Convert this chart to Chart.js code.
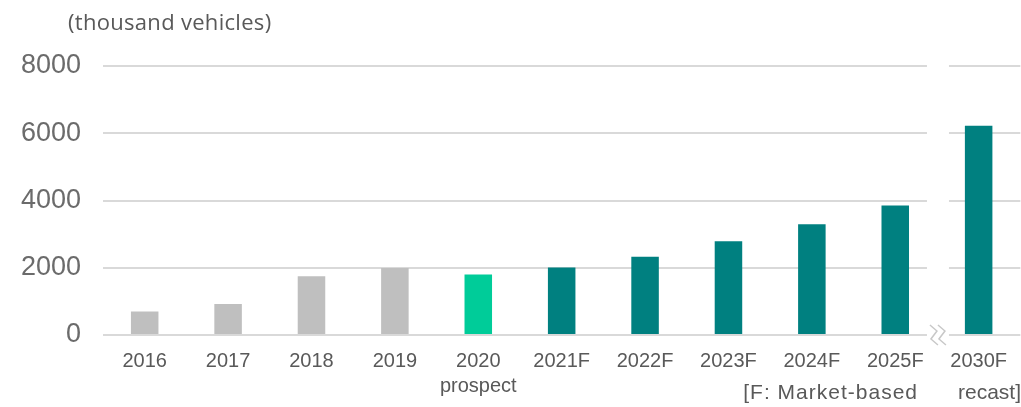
<!DOCTYPE html>
<html>
<head>
<meta charset="utf-8">
<script src="https://cdn.jsdelivr.net/npm/chart.js@4/dist/chart.umd.min.js"></script>
<style>
  html, body { margin: 0; padding: 0; background: #fff; }
  #wrap { width: 1021px; height: 407px; position: relative; }
</style>
</head>
<body>
<div id="wrap"><canvas id="barChart" width="1021" height="407"></canvas></div>
<script>
const years = ['2016', '2017', '2018', '2019', ['2020', 'prospect'], '2021F', '2022F', '2023F', '2024F', '2025F', '2030F'];
const vehicles = [700, 920, 1750, 1990, 1800, 2010, 2330, 2790, 3290, 3850, 6220];
const barColors = ['#BFBFBF', '#BFBFBF', '#BFBFBF', '#BFBFBF', '#00CC99',
    '#008080', '#008080', '#008080', '#008080', '#008080', '#008080'];
const yTicks = [0, 2000, 4000, 6000, 8000];

const unitLabel = '(thousand vehicles)';
const noteLeft = '[F: Market-based';
const noteRight = 'recast]';

// axis break between 2025F and 2030F plus the extra texts
const breakPlugin = {
    id: 'breakPlugin',
    afterDatasetsDraw(chart) {
        const ctx = chart.ctx;
        const x = chart.scales.x;
        const y = chart.scales.y;
        const bx = (x.getPixelForValue(9) + x.getPixelForValue(10)) / 2 + 1;
        ctx.save();
        // gap in the grid lines
        ctx.fillStyle = '#fff';
        yTicks.forEach(t => {
            const py = y.getPixelForValue(t);
            ctx.fillRect(bx - 11, py - 2, 22, 4);
        });
        // zigzag break mark
        const by = y.getPixelForValue(0);
        ctx.strokeStyle = '#C8C8C8';
        ctx.lineWidth = 1.5;
        [-4, 4].forEach(off => {
            ctx.beginPath();
            ctx.moveTo(bx + off - 4, by - 10);
            ctx.lineTo(bx + off + 3, by - 4);
            ctx.lineTo(bx + off - 3, by + 4);
            ctx.lineTo(bx + off + 4, by + 10);
            ctx.stroke();
        });
        ctx.restore();
    },
    afterDraw(chart) {
        const ctx = chart.ctx;
        ctx.save();
        ctx.fillStyle = '#595959';
        ctx.textBaseline = 'alphabetic';
        ctx.font = '22px "Open Sans", Lato, sans-serif';
        ctx.letterSpacing = '0.3px';
        ctx.textAlign = 'left';
        ctx.fillText(unitLabel, 68, 30);
        ctx.font = '21px "Liberation Sans", Arial, sans-serif';
        ctx.letterSpacing = '1px';
        ctx.textAlign = 'right';
        ctx.fillText(noteLeft, 918, 399);
        ctx.letterSpacing = '0px';
        ctx.textAlign = 'left';
        ctx.fillText(noteRight, 958, 399);
        ctx.restore();
    }
};

const ctx = document.getElementById('barChart').getContext('2d');
new Chart(ctx, {
    type: 'bar',
    data: {
        labels: years,
        datasets: [{
            label: 'Vehicles',
            data: vehicles,
            backgroundColor: barColors,
            borderWidth: 0,
            barPercentage: 0.33,
            categoryPercentage: 1.0,
        }]
    },
    options: {
        responsive: false,
        animation: false,
        layout: {
            padding: { top: 66, right: 0, left: 0, bottom: 0 }
        },
        plugins: {
            legend: { display: false },
            tooltip: { enabled: false },
        },
        scales: {
            x: {
                grid: { display: false, drawTicks: false },
                border: { display: false },
                ticks: {
                    color: '#595959',
                    font: { family: '"Liberation Sans", Arial, sans-serif', size: 20, lineHeight: 1.25 },
                    padding: 14,
                    maxRotation: 0,
                    autoSkip: false,
                },
                afterFit(scale) { scale.height = 72; }
            },
            y: {
                min: 0,
                max: 8000,
                afterBuildTicks(scale) {
                    scale.ticks = yTicks.map(v => ({ value: v }));
                },
                grid: { color: '#D9D9D9', lineWidth: 2, drawTicks: false },
                border: { display: false },
                ticks: {
                    color: '#6B6B6B',
                    font: { family: '"Liberation Sans", Arial, sans-serif', size: 27 },
                    padding: 22,
                    callback: v => String(v),
                },
                afterFit(scale) { scale.width = 103; }
            }
        }
    },
    plugins: [breakPlugin]
});
</script>
</body>
</html>
